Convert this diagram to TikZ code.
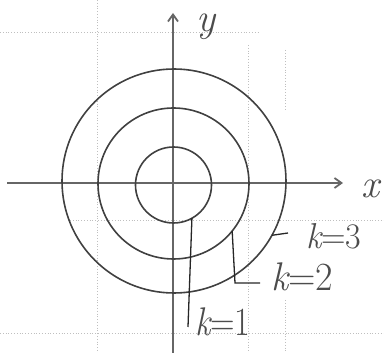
\documentclass[tikz,border=0pt]{standalone}
\usepackage{fontspec}
\usetikzlibrary{arrows.meta}
\begin{document}
\begin{tikzpicture}[x=1pt,y=-1pt,
  axis/.style={draw=black!60, line width=1.8pt, -{Straight Barb[length=7pt,width=10pt]}},
  circ/.style={circle, draw=black!75, line width=1.6pt, inner sep=0pt, outer sep=0pt},
  lead/.style={draw=black!85, line width=1.3pt},
  lab/.style={text=black!70, inner sep=0pt, font=\fontsize{40}{40}\selectfont},
  gridl/.style={draw=black!25, dotted, line width=0.8pt}]
\useasboundingbox (0,0) rectangle (384,353);
% faint graph paper
\draw[gridl] (0,32) -- (258,32);
\draw[gridl] (70,220) -- (384,220);
\draw[gridl] (0,333) -- (384,333);
\draw[gridl] (97,0) -- (97,353);
\draw[gridl] (248,45) -- (248,353);
\draw[gridl] (285,50) -- (285,110);
\draw[gridl] (285,300) -- (285,353);
% axes
\coordinate (xl) at (7,183);
\coordinate (xr) at (343,183);
\coordinate (yb) at (173,353);
\coordinate (yt) at (173,13);
\draw[axis] (xl) -- (xr);
\draw[axis] (yb) -- (yt);
\node[lab] (ylab) at (206,27) {\itshape y};
\node[lab] (xlab) at (370,189) {\itshape x};
% circles
\node[circ, minimum size=76pt] (c1) at (173.5,185) {};
\node[circ, minimum size=151pt] (c2) at (173.5,183.5) {};
\node[circ, minimum size=224pt] (c3) at (174,181) {};
% labels
\node[lab, anchor=west] (k3) at (306,236) {\scalebox{0.85}[0.9]{\itshape k\upshape =3}};
\node[lab, anchor=west] (k2) at (271,277) {\scalebox{0.95}[1]{\itshape k\upshape =2}};
\node[lab, anchor=west] (k1) at (195,322) {\scalebox{0.85}[1]{\itshape k\upshape =1}};
% leaders
\coordinate (k1e) at (188,327);
\draw[lead] (c1.-61) -- (k1e);
\coordinate (k2c) at (235,283);
\coordinate (k2e) at (260,283);
\draw[lead] (c2.-39) -- (k2c) -- (k2e);
\coordinate (k3e) at (288,233);
\draw[lead] (c3.-29) -- (k3e);
\end{tikzpicture}
\end{document}
